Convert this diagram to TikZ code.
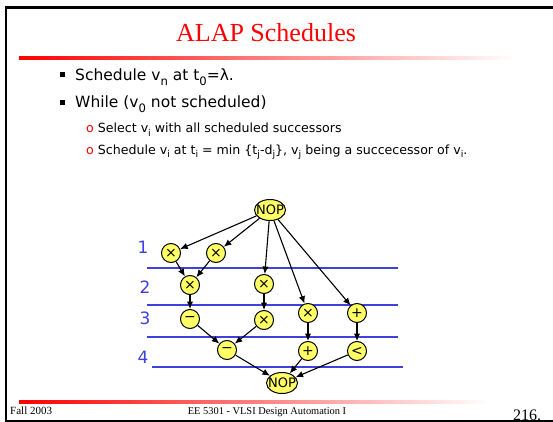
\documentclass[tikz,border=0pt]{standalone}
\usepackage{fontspec}
\usepackage{graphicx}
\setmainfont{Liberation Serif}
\newfontfamily\slidesans{DejaVu Sans}
\usetikzlibrary{shapes.geometric}
\usetikzlibrary{arrows.meta}

\definecolor{opyellow}{RGB}{255,255,102}
\definecolor{csblue}{RGB}{64,64,220}

% index set low, as on the slide
\newcommand{\idx}[1]{\raisebox{-0.3em}{\scalebox{0.75}{#1}}}

\tikzset{
  op/.style={circle, draw, line width=1pt, fill=opyellow, minimum size=19pt,
    inner sep=0pt, font=\slidesans\fontsize{14}{14}\selectfont},
  nop/.style={ellipse, draw, line width=1pt, fill=opyellow, minimum width=31pt,
    minimum height=21pt, inner sep=0pt, font=\slidesans\fontsize{13}{13}\selectfont},
  dep/.style={-{Latex[length=7.5pt,width=6.5pt]}, line width=1.1pt},
  csline/.style={csblue, line width=1.3pt},
  cslabel/.style={csblue, font=\slidesans\fontsize{17}{17}\selectfont},
  bodytext/.style={anchor=base west, inner sep=0pt, font=\slidesans\fontsize{15.5}{18}\selectfont},
  subtext/.style={anchor=base west, inner sep=0pt, font=\slidesans\fontsize{12.6}{15}\selectfont},
}

\begin{document}
\begin{tikzpicture}[x=1pt,y=-1pt]
\useasboundingbox (0,0) rectangle (553,422);
\clip (0,0) rectangle (553,422);

% slide frame
\draw[line width=2.7pt] (6,7.3) rectangle (570,421);

% title
\node[anchor=base, inner sep=0pt, text=red, font=\fontsize{26}{30}\selectfont] (title) at (266,42) {ALAP Schedules};
\shade[left color=red, right color=white] (19,56.5) rectangle (515,59.5);

% algorithm
\fill (60,72) rectangle (65,77);
\node[bodytext] (start) at (75,81) {Schedule v\idx{n} at t\idx{0}=λ.};
\fill (60,100) rectangle (65,105);
\node[bodytext] (loop) at (75,108) {While (v\idx{0} not scheduled)};
\node[subtext] (select) at (86,133) {{\color{red}o} Select v\idx{i} with all scheduled successors};
\node[subtext] (assign) at (86,154) {{\color{red}o} Schedule v\idx{i} at t\idx{i} = min \{t\idx{j}-d\idx{j}\}, v\idx{j} being a succecessor of v\idx{i}.};

% control steps
\foreach \y/\xa/\xb in {268/147/398, 305/147/398, 337/147/398, 367/152/403}
  \draw[csline] (\xa,\y) -- (\xb,\y);
\foreach \n/\x/\y in {1/143/247, 2/145/287, 3/145/318, 4/143/357}
  \node[cslabel] (step\n) at (\x,\y) {\n};

% operations
\node[nop] (nop0) at (270,210) {\makebox[0pt]{NOP}};
\node[op] (m1) at (171,253) {×};
\node[op] (m2) at (216,253) {×};
\node[op] (m3) at (190,285) {×};
\node[op] (m4) at (264,284) {×};
\node[op] (s1) at (190,319) {−};
\node[op] (m5) at (264,320) {×};
\node[op] (m6) at (308,313) {×};
\node[op] (a1) at (357,313) {+};
\node[op] (s2) at (227,350) {−};
\node[op] (a2) at (308,351) {+};
\node[op] (lt1) at (357,351) {<};
\node[nop] (nop1) at (282,383) {\makebox[0pt]{NOP}};

\foreach \a/\b in {nop0/m1, nop0/m2, nop0/m4, nop0/m6, nop0/a1,
  m1/m3, m2/m3, m3/s1, m4/m5, s1/s2, m5/s2, m6/a2, a1/lt1,
  s2/nop1, a2/nop1, lt1/nop1}
  \draw[dep] (\a) -- (\b);

% footer
\shade[left color=red, right color=white] (19,400.5) rectangle (490,403.5);
\node[anchor=base west, inner sep=0pt, font=\fontsize{11}{13}\selectfont] (date) at (10,414) {Fall 2003};
\node[anchor=base, inner sep=0pt, font=\fontsize{10.4}{13}\selectfont] (course) at (267,414) {EE 5301 - VLSI Design Automation I};
\node[anchor=base west, inner sep=0pt, font=\fontsize{16}{16}\selectfont] (page) at (513,420) {216.};

\end{tikzpicture}
\end{document}
